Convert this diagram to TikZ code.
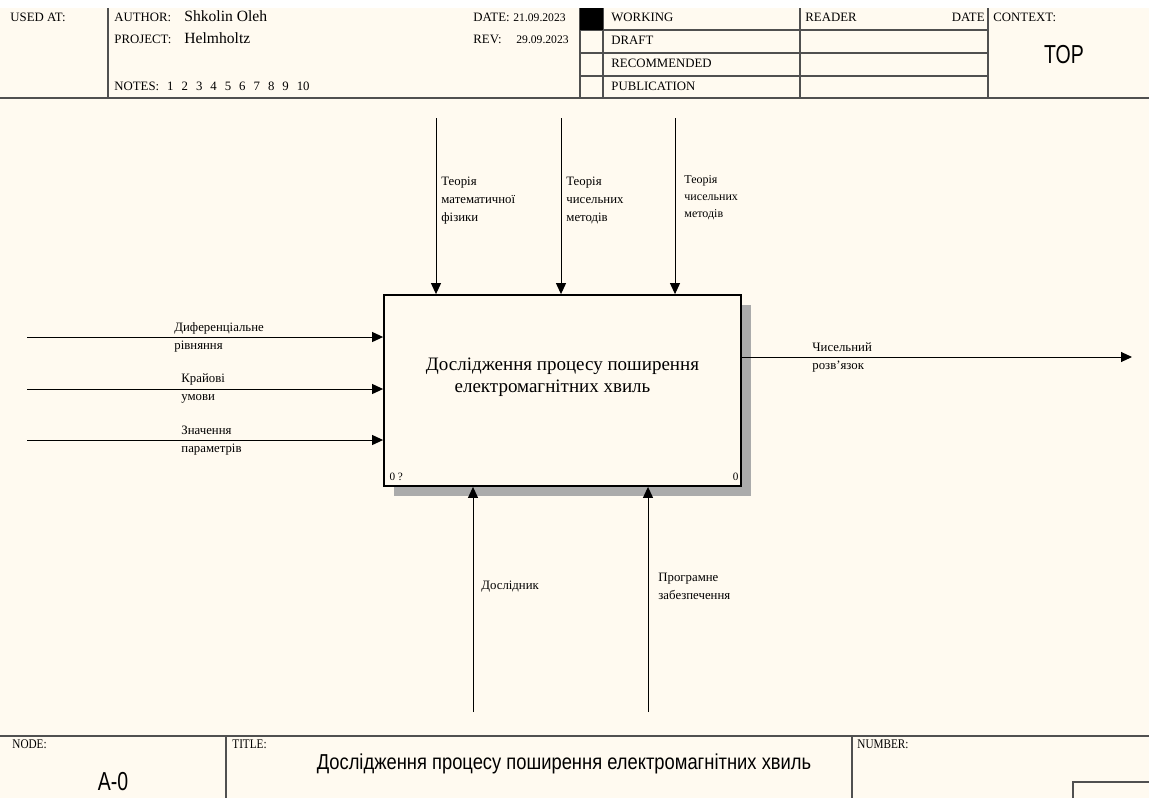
\documentclass[tikz,border=0pt]{standalone}
\usepackage{fontspec}
\setmainfont{Liberation Serif}
\newfontfamily\condsans[FakeStretch=0.75]{Liberation Sans}
\newfontfamily\titlesans[FakeStretch=0.85]{Liberation Sans}
\newfontfamily\condserif[FakeStretch=0.85]{Liberation Serif}
\usetikzlibrary{arrows.meta,positioning,calc,shadows}
\definecolor{pagecream}{RGB}{255,250,240}
\definecolor{frameline}{RGB}{80,80,80}
\tikzset{
  framerule/.style={draw=frameline,line width=0.9pt},
  headtext/.style={anchor=base west,inner sep=0pt,font=\fontsize{6.4}{7}\selectfont},
  nametext/.style={anchor=base west,inner sep=0pt,font=\fontsize{7.8}{9}\selectfont},
  datetext/.style={anchor=base west,inner sep=0pt,font=\fontsize{5.8}{6}\selectfont},
  foottext/.style={anchor=base west,inner sep=0pt,font=\condserif\fontsize{6.6}{7}\selectfont},
  funcbox/.style={draw=black,line width=0.9pt,fill=pagecream,
    minimum width=178.5pt,minimum height=95.5pt,
    drop shadow={shadow xshift=5pt,shadow yshift=-5pt,fill=black!33,opacity=1}},
  functext/.style={align=center,inner sep=0pt,font=\fontsize{9.5}{11}\selectfont},
  cornertext/.style={inner sep=0pt,font=\fontsize{5.6}{6}\selectfont},
  flowarrow/.style={-{Triangle[length=5.5pt,width=5pt]},line width=0.5pt},
  arrowlabel/.style={inner sep=0pt,align=left,font=\fontsize{6.4}{9}\selectfont}
}
\begin{document}
\begin{tikzpicture}[x=0.5pt,y=-0.5pt]
  \useasboundingbox (0,0) rectangle (1149,798);
  \fill[white] (0,0) rectangle (1149,798);
  \fill[pagecream] (0,8) rectangle (1149,798);

  % header frame
  \draw[framerule] (0,98) -- (1149,98);
  \foreach \xx in {108,580,603,800,988}
    \draw[framerule] (\xx,8) -- (\xx,98);
  \foreach \yy in {30,53,76}
    \draw[framerule] (580,\yy) -- (988,\yy);
  \fill[black] (580,8) rectangle (603,30);

  % header texts
  \node[headtext] (usedat) at (10,21) {USED AT:};
  \node[headtext] (author) at (114,21) {AUTHOR:};
  \node[nametext] (authorname) at (184,21) {Shkolin Oleh};
  \node[headtext] (project) at (114,43) {PROJECT:};
  \node[nametext] (projectname) at (184,43) {Helmholtz};
  \node[headtext] (notes) at (114,90) {NOTES:\hspace{4pt}1\hspace{4pt}2\hspace{4pt}3\hspace{4pt}4\hspace{4pt}5\hspace{4pt}6\hspace{4pt}7\hspace{4pt}8\hspace{4pt}9\hspace{4pt}10};
  \node[headtext] (date) at (473,21) {DATE:};
  \node[datetext] (dateval) at (513,21) {21.09.2023};
  \node[headtext] (rev) at (473,43) {REV:};
  \node[datetext] (revval) at (516,43) {29.09.2023};
  \foreach \lbl [count=\i from 0] in {WORKING,DRAFT,RECOMMENDED,PUBLICATION}
    \node[headtext] (status\i) at (611,21+23*\i) {\lbl};
  \node[headtext] (reader) at (805,21) {READER};
  \node[headtext,anchor=base east] (readerdate) at (985,21) {DATE};
  \node[headtext] (context) at (993,21) {CONTEXT:};
  \node[font=\condsans\fontsize{13}{15}\selectfont] (top) at (1064,55) {TOP};

  % function box
  \node[funcbox] (fn) at (562.5,390.5) {};
  \node[functext] (fntext) at ($(fn.center)+(0,-13)$)
    {Дослідження процесу поширення\\електромагнітних хвиль\hspace*{10pt}};
  \node[cornertext,anchor=base west] (fnnum) at ($(fn.south west)+(6,-6)$) {0 ?};
  \node[cornertext,anchor=base east] (fnid) at ($(fn.south east)+(-3,-6)$) {0};

  % controls
  \coordinate (c1) at (436,118);
  \coordinate (c2) at (561,118);
  \coordinate (c3) at (675,118);
  \foreach \c in {c1,c2,c3}
    \draw[flowarrow] (\c) -- (\c |- fn.north);
  \node[arrowlabel,anchor=north west] (c1lbl) at (441,177) {Теорія\\математичної\\фізики};
  \node[arrowlabel,anchor=north west] (c2lbl) at (566,177) {Теорія\\чисельних\\методів};
  \node[arrowlabel,anchor=north west,font=\fontsize{6}{8.5}\selectfont] (c3lbl) at (684,175) {Теорія\\чисельних\\методів};

  % inputs
  \coordinate (i1) at (27,337);
  \coordinate (i2) at (27,389);
  \coordinate (i3) at (27,440);
  \foreach \i in {i1,i2,i3}
    \draw[flowarrow] (\i) -- (\i -| fn.west);
  \node[arrowlabel,anchor=west] (i1lbl) at (174,337) {Диференціальне\\рівняння};
  \node[arrowlabel,anchor=west] (i2lbl) at (181,388) {Крайові\\умови};
  \node[arrowlabel,anchor=west] (i3lbl) at (181,441) {Значення\\параметрів};

  % output
  \coordinate (o1) at (1132,357);
  \draw[flowarrow] (fn.east |- o1) -- (o1);
  \node[arrowlabel,anchor=west] (o1lbl) at (812,357) {Чисельний\\розв'язок};

  % mechanisms
  \coordinate (m1) at (473,712);
  \coordinate (m2) at (648,712);
  \foreach \m in {m1,m2}
    \draw[flowarrow] (\m) -- (\m |- fn.south);
  \node[arrowlabel,anchor=west] (m1lbl) at (481,587) {Дослідник};
  \node[arrowlabel,anchor=west] (m2lbl) at (658,586) {Програмне\\забезпечення};

  % footer frame
  \draw[framerule] (0,736) -- (1149,736);
  \draw[framerule] (226,736) -- (226,798);
  \draw[framerule] (852,736) -- (852,798);
  \draw[framerule] (1073,798) -- (1073,782) -- (1149,782);
  \node[foottext] (node) at (12,748) {NODE:};
  \node[foottext] (title) at (232,748) {TITLE:};
  \node[foottext] (number) at (857,748) {NUMBER:};
  \node[font=\condsans\fontsize{13}{15}\selectfont] (nodeid) at (113,782) {A-0};
  \node[font=\titlesans\fontsize{10.8}{12}\selectfont] (titletext) at (564,764)
    {Дослідження процесу поширення електромагнітних хвиль};
\end{tikzpicture}
\end{document}
